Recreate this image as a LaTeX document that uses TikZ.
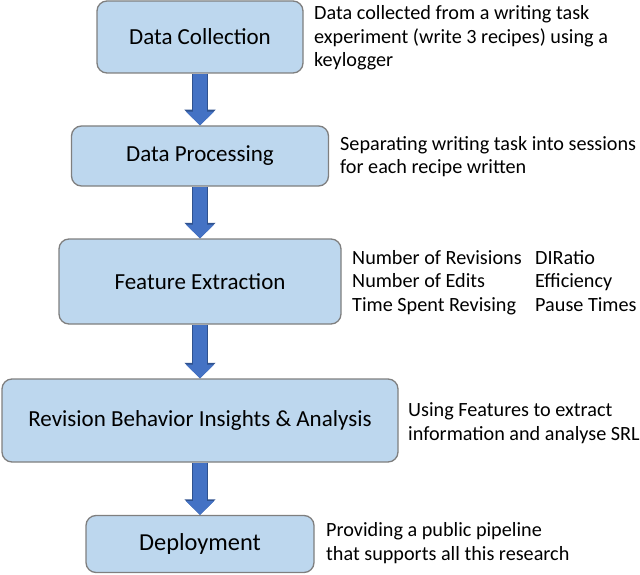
\documentclass[tikz,border=0pt]{standalone}
\usepackage{fontspec}
\setmainfont{Carlito}
\usetikzlibrary{arrows.meta}
\definecolor{boxfill}{HTML}{BDD7EE}
\definecolor{boxline}{HTML}{7F7F7F}
\definecolor{arrowblue}{HTML}{4472C4}
\definecolor{arrowdark}{HTML}{2F528F}
\tikzset{
  stage/.style={draw=boxline, line width=1.3pt, fill=boxfill, rounded corners=10pt,
    inner sep=0pt, font=\fontsize{23}{27}\selectfont, text=black},
  sidenote/.style={anchor=base west, inner sep=0pt, align=left,
    font=\fontsize{20.2}{23.5}\selectfont, text=black},
  flowarrow/.style={
    preaction={draw=arrowdark, line width=16.6pt, -{Triangle[width=30.5pt,length=15.6pt]}},
    line width=14pt, arrowblue,
    -{Triangle[width=27.5pt,length=13.8pt]}},
}
\begin{document}
\begin{tikzpicture}[x=1pt,y=-1pt]
\useasboundingbox (0,0) rectangle (640,575);
\node[stage, minimum width=206pt, minimum height=72pt] (dc) at (200,37) {Data Collection};
\node[stage, minimum width=257pt, minimum height=60pt] (dp) at (200,156) {Data Processing};
\node[stage, minimum width=282pt, minimum height=85pt] (fe) at (200,281.5) {Feature Extraction};
\node[stage, minimum width=396pt, minimum height=83pt] (rb) at (200,420.5) {Revision Behavior Insights \& Analysis};
\node[stage, minimum width=228pt, minimum height=57pt, font=\fontsize{24.4}{28}\selectfont] (dep) at (200,544) {Deployment};

\draw[flowarrow] (dc.south) -- (dp.north);
\draw[flowarrow] (dp.south) -- (fe.north);
\draw[flowarrow] (fe.south) -- (rb.north);
\draw[flowarrow] (rb.south) -- (dep.north);

\node[sidenote] (t1) at (314,67) {Data collected from a writing task\\experiment (write 3 recipes) using a\\keylogger};
\node[sidenote] (t2) at (340,174) {Separating writing task into sessions\\for each recipe written};
\node[sidenote] (t3a) at (352,311) {Number of Revisions\\Number of Edits\\Time Spent Revising};
\node[sidenote] (t3b) at (535,311) {DIRatio\\Efficiency\\Pause Times};
\node[sidenote] (t4) at (408,440) {Using Features to extract\\information and analyse SRL};
\node[sidenote] (t5) at (326,560) {Providing a public pipeline\\that supports all this research};
\end{tikzpicture}
\end{document}
